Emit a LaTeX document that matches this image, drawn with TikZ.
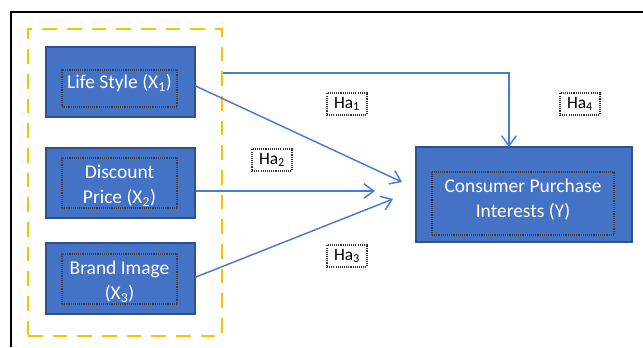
\documentclass[tikz,border=0pt]{standalone}
\usepackage{fontspec}
\setmainfont{Carlito}
\usetikzlibrary{arrows.meta}
\definecolor{boxblue}{HTML}{4472C4}
\definecolor{edgeblue}{HTML}{2F528F}
\definecolor{lineblue}{HTML}{4A7BD0}
\definecolor{dashorange}{HTML}{FFC000}

\begin{document}
\begin{tikzpicture}[x=0.75pt,y=-0.75pt,
  var/.style={draw=edgeblue,fill=boxblue,line width=0.8pt,inner sep=0pt,minimum width=111.75pt},
  frm/.style={draw=black!75,line width=0.8pt,dash pattern=on 0.7pt off 0.7pt,inner sep=0pt},
  txt/.style={text=white,align=center,inner sep=0pt,font=\fontsize{14.6}{18.5}\selectfont},
  hyp/.style={draw=black!80,line width=1pt,dash pattern=on 0.8pt off 0.8pt,fill=white,
    minimum width=30pt,minimum height=16.5pt,inner sep=0pt,font=\fontsize{13}{15}\selectfont},
  arr/.style={draw=lineblue,line width=1.1pt,-{Straight Barb[length=7.5pt,width=11pt]}}]
  \useasboundingbox (0,0) rectangle (643,347);
  % outer frame (cut at right and bottom)
  \draw[line width=1pt] (11,347) -- (11,12) -- (643,12);
  % group of independent variables
  \node[draw=dashorange,line width=2.2pt,dash pattern=on 11pt off 7.5pt,
    minimum width=145.5pt,minimum height=230.25pt] (grp) at (125,182.5) {};
  % variables
  \node[var,minimum height=52.5pt] (ls) at (120.5,82) {};
  \node[var,minimum height=52.5pt] (dp) at (120.5,183) {};
  \node[var,minimum height=53.25pt] (bi) at (120.5,278.5) {};
  \node[var,minimum width=162pt,minimum height=71.25pt] (cpi) at (524,194.5) {};
  \node[frm,minimum width=86.25pt,minimum height=27.75pt] (lsF) at (119.5,88.5) {};
  \node[frm,minimum width=86.25pt,minimum height=37.5pt] (dpF) at (119.5,183) {};
  \node[frm,minimum width=86.25pt,minimum height=37.5pt] (biF) at (119.5,279) {};
  \node[frm,minimum width=136.5pt,minimum height=47.25pt] (cpiF) at (523,203.5) {};
  \node[txt] (lsT) at (119.5,83) {Life Style (X\textsubscript{1})};
  \node[txt] (dpT) at (119.5,186) {Discount\\Price (X\textsubscript{2})};
  \node[txt] (biT) at (119.5,282) {Brand Image\\(X\textsubscript{3})};
  \node[txt] (cpiT) at (523,199.5) {Consumer Purchase\\Interests (Y)};
  % arrow ends
  \coordinate (e1) at (402,182);
  \coordinate (e2) at (375,191);
  \coordinate (e3) at (393,199);
  \coordinate (e4) at (509,147);
  \draw[arr] (grp.east |- 0,73) -| (e4);
  \draw[arr] ([yshift=-3pt]ls.east) -- (e1);
  \draw[arr] ([yshift=-6pt]dp.east) -- (e2);
  \draw[arr] ([yshift=1pt]bi.east) -- (e3);
  % hypotheses
  \node[hyp] (ha1) at (347,104) {Ha\textsubscript{1}};
  \node[hyp] (ha2) at (272,160) {Ha\textsubscript{2}};
  \node[hyp] (ha3) at (347,256) {Ha\textsubscript{3}};
  \node[hyp] (ha4) at (580,104) {Ha\textsubscript{4}};
\end{tikzpicture}
\end{document}
